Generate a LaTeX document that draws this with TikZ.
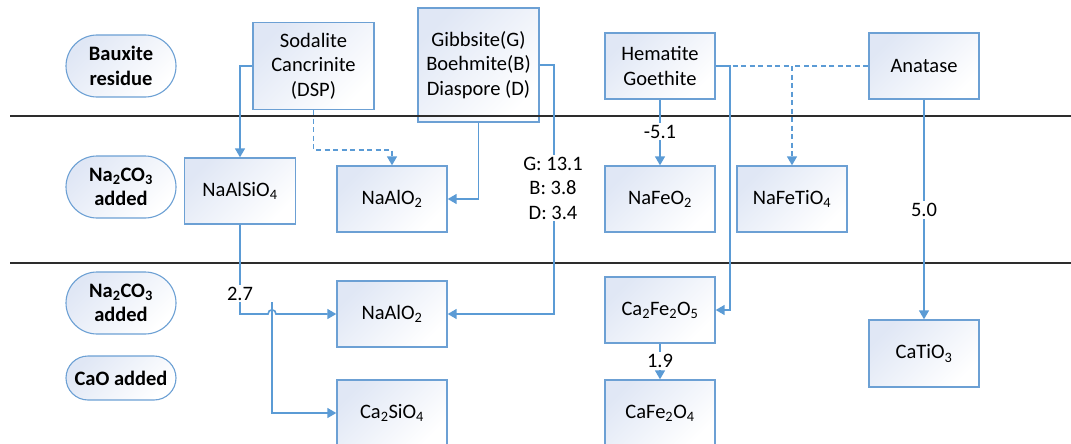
\documentclass[tikz,border=0pt]{standalone}
\usepackage{fontspec}
\setmainfont{Carlito}
\usetikzlibrary{arrows.meta}
\definecolor{connc}{RGB}{91,155,213}
\definecolor{bordc}{RGB}{108,160,212}
\definecolor{shadec}{RGB}{224,231,245}
\definecolor{rulec}{RGB}{45,45,45}
\begin{document}
\begin{tikzpicture}[x=1pt,y=-1pt,
  font=\fontsize{20.5}{24.5}\selectfont,
  mbox/.style={draw=bordc, line width=1.4pt, top color=shadec, bottom color=white, shading angle=45,
    minimum width=110, minimum height=66, inner sep=2pt, align=center},
  pill/.style={draw=bordc, line width=1.1pt, top color=shadec, bottom color=white, shading angle=45,
    minimum width=110, minimum height=62, rounded corners=31pt, inner sep=1pt, align=center,
    font=\fontsize{20.5}{24.5}\selectfont\bfseries},
  plainc/.style={draw=connc, line width=1.6pt},
  conn/.style={plainc, -{Triangle[length=9pt,width=10pt]}},
  dconn/.style={conn, dash pattern=on 5pt off 3.5pt},
  dplain/.style={plainc, dash pattern=on 5pt off 3.5pt},
  lab/.style={fill=white, inner sep=2pt, align=center},
  rulel/.style={draw=rulec, line width=1.3pt}]
\useasboundingbox (0,0) rectangle (1071,444);
\clip (0,0) rectangle (1071,444);

% row labels
\node[pill] (p1) at (121,66) {Bauxite\\residue};
\node[pill] (p2) at (121,187) {Na\textsubscript{2}CO\textsubscript{3}\\added};
\node[pill] (p3) at (121,303) {Na\textsubscript{2}CO\textsubscript{3}\\added};
\node[pill, minimum height=44, rounded corners=22pt] (p4) at (121,378) {CaO added};

% top row
\node[mbox, minimum width=121, minimum height=87] (sod) at (313.5,66) {Sodalite\\Cancrinite\\(DSP)};
\node[mbox, minimum width=121, minimum height=114] (gib) at (478.5,65) {Gibbsite(G)\\Boehmite(B)\\Diaspore (D)};
\node[mbox] (hem) at (660,66) {Hematite\\Goethite};
\node[mbox] (ana) at (924,66) {Anatase};

% middle row
\node[mbox, minimum width=111] (nasi) at (240,191) {NaAlSiO\textsubscript{4}};
\node[mbox] (naal1) at (392,199) {NaAlO\textsubscript{2}};
\node[mbox] (nafe) at (660,199) {NaFeO\textsubscript{2}};
\node[mbox] (nafeti) at (792,199) {NaFeTiO\textsubscript{4}};

% bottom rows
\node[mbox] (naal2) at (392,314) {NaAlO\textsubscript{2}};
\node[mbox] (casi) at (392,413) {Ca\textsubscript{2}SiO\textsubscript{4}};
\node[mbox] (cafe1) at (660,310) {Ca\textsubscript{2}Fe\textsubscript{2}O\textsubscript{5}};
\node[mbox] (cafe2) at (660,413) {CaFe\textsubscript{2}O\textsubscript{4}};
\node[mbox, minimum height=67] (cati) at (924,353.5) {CaTiO\textsubscript{3}};

% separating rules
\coordinate (r1a) at (10,116); \coordinate (r1b) at (1071,116);
\coordinate (r2a) at (10,263); \coordinate (r2b) at (1071,263);
\draw[rulel] (r1a) -- (r1b);
\draw[rulel] (r2a) -- (r2b);

% connectors
\draw[conn] (sod.west) -| (nasi.north);
\draw[dconn] (sod.south) -- ++(0,40) -| (naal1.north);
\draw[conn] (gib.south) |- (naal1.east);
\draw[conn] (gib.east) -- ++(14.5,0) |- (naal2.east);
\draw[conn] (hem.south) -- (nafe.north);
\draw[conn] (hem.east) -- ++(14,0) |- (cafe1.east);
\draw[dconn] (hem.east) -| (nafeti.north);
\draw[dplain] (ana.west) -- (nafeti.north |- ana.west);
\draw[conn] (ana.south) -- (cati.north);
\draw[conn] (cafe1.south) -- (cafe2.north);
% NaAlSiO4 branch with line hop
\coordinate (hopa) at (268,314);
\coordinate (hopb) at (276,314);
\draw[conn] (nasi.south) |- (hopa) .. controls (268,308.5) and (276,308.5) .. (hopb) -- (naal2.west);
\coordinate (br) at (272,302);
\draw[conn] (br) |- (casi.west);

% labels
\node[lab] (l1) at (553,188) {G: 13.1\\B: 3.8\\D: 3.4};
\node[lab] (l2) at (660,131.5) {-5.1};
\node[lab] (l3) at (924,210) {5.0};
\node[lab] (l4) at (240,293.5) {2.7};
\node[lab] (l5) at (660,361) {1.9};
\end{tikzpicture}
\end{document}
